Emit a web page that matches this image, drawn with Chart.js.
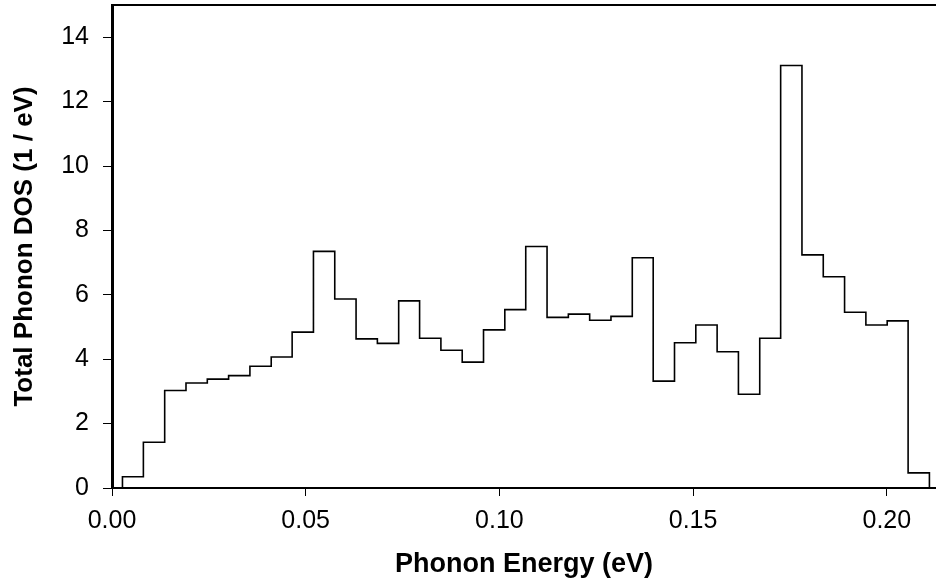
<!DOCTYPE html>
<html>
<head>
<meta charset="utf-8">
<script src="https://cdn.jsdelivr.net/npm/chart.js@4/dist/chart.umd.min.js"></script>
<style>
  html, body { margin: 0; padding: 0; background: #fff; }
  #wrap { width: 936px; height: 581px; }
</style>
</head>
<body>
<div id="wrap"><canvas id="dosChart" width="936" height="581"></canvas></div>
<script>
// bin edges (eV), 39 edges for 38 bins
const binEdges = [0.0027, 0.0081, 0.0136, 0.0191, 0.0246, 0.0301, 0.0356, 0.0411, 0.0465, 0.0520,
  0.0575, 0.0630, 0.0685, 0.0740, 0.0794, 0.0849, 0.0904, 0.0959, 0.1014, 0.1068,
  0.1123, 0.1178, 0.1233, 0.1288, 0.1343, 0.1397, 0.1452, 0.1507, 0.1562, 0.1617,
  0.1672, 0.1726, 0.1781, 0.1836, 0.1891, 0.1946, 0.2001, 0.2055, 0.2110];
// total phonon DOS per bin (1/eV)
const dos = [0.35, 1.42, 3.03, 3.26, 3.38, 3.49, 3.78, 4.07, 4.84, 7.35,
  5.87, 4.63, 4.49, 5.81, 4.65, 4.28, 3.91, 4.91, 5.54, 7.50,
  5.30, 5.40, 5.21, 5.33, 7.15, 3.32, 4.51, 5.06, 4.23, 2.91,
  4.65, 13.12, 7.24, 6.56, 5.46, 5.06, 5.19, 0.47];
const xTicks = [0.00, 0.05, 0.10, 0.15, 0.20];
const yTicks = [0, 2, 4, 6, 8, 10, 12, 14];

// step outline: each bin value runs from its left edge to the next edge
let pts = [{x: binEdges[0], y: 0}];
for (let i = 0; i < dos.length; i++) {
  pts.push({x: binEdges[i], y: dos[i]});
}
pts.push({x: binEdges[binEdges.length - 1], y: dos[dos.length - 1]});
pts.push({x: binEdges[binEdges.length - 1], y: 0});

const font = 'Liberation Sans, Arial, sans-serif';

new Chart("dosChart", {
  type: "line",
  data: {
    datasets: [{
      data: pts,
      borderColor: "#000",
      borderWidth: 1.6,
      stepped: "before",
      pointRadius: 0,
      fill: false
    }]
  },
  options: {
    responsive: false,
    animation: false,
    layout: {autoPadding: false, padding: {top: 5, right: 0, left: 0, bottom: 0}},
    plugins: {legend: {display: false}, tooltip: {enabled: false}},
    scales: {
      x: {
        type: "linear",
        min: 0,
        max: 0.2127,
        afterFit: s => { s.height = 93; s.paddingLeft = 0; s.paddingRight = 0; },
        afterBuildTicks: s => { s.ticks = xTicks.map(v => ({value: v})); },
        ticks: {
          color: "#000",
          font: {family: font, size: 25},
          padding: 10,
          maxRotation: 0,
          callback: v => v.toFixed(2)
        },
        grid: {drawOnChartArea: false, drawTicks: true, tickLength: 8, color: "#000", lineWidth: 1},
        border: {display: true, color: "#000", width: 2},
        title: {
          display: true,
          text: "Phonon Energy (eV)",
          color: "#000",
          font: {family: font, size: 27, weight: "bold"},
          padding: {top: 0, bottom: 0}
        }
      },
      xTop: {
        type: "linear",
        position: "top",
        min: 0,
        max: 0.2127,
        afterFit: s => { s.height = 0; s.paddingLeft = 0; s.paddingRight = 0; },
        ticks: {display: false},
        grid: {display: false},
        border: {display: true, color: "#000", width: 2}
      },
      y: {
        min: 0,
        max: 15,
        afterFit: s => { s.width = 112; s.paddingTop = 0; s.paddingBottom = 0; },
        afterBuildTicks: s => { s.ticks = yTicks.map(v => ({value: v})); },
        ticks: {
          color: "#000",
          font: {family: font, size: 25},
          padding: 14
        },
        grid: {drawOnChartArea: false, drawTicks: true, tickLength: 9, color: "#000", lineWidth: 1},
        border: {display: true, color: "#000", width: 3},
        title: {
          display: true,
          text: "Total Phonon DOS (1 / eV)",
          color: "#000",
          font: {family: font, size: 26, weight: "bold"},
          padding: {top: 9, bottom: 0}
        }
      }
    }
  }
});
</script>
</body>
</html>
